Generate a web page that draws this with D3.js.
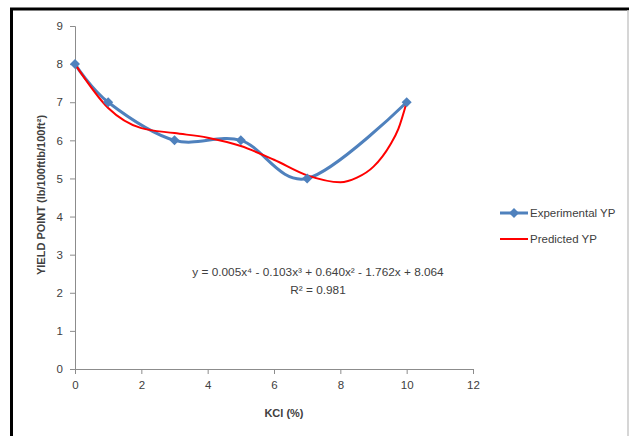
<!DOCTYPE html>
<html>
<head>
<meta charset="utf-8">
<script src="https://cdn.jsdelivr.net/npm/d3@7"></script>
<style>
  body { margin: 0; background: #fff; }
  svg text { font-family: "Liberation Sans", Arial, sans-serif; fill: #404040; }
</style>
</head>
<body>
<div class="canvas"></div>
<script>
// data
const kcl = [0, 1, 3, 5, 7, 10];
const experimentalYP = [8, 7, 6, 6, 5, 7];
const predictedX = [0, 1, 2, 3, 4, 5, 6, 7, 8, 8.5, 9, 9.5, 9.75, 10];
const predictedYP = [8.0, 6.85, 6.32, 6.19, 6.07, 5.85, 5.49, 5.08, 4.9, 5.02, 5.31, 5.88, 6.3, 7.0];
const xTicks = [0, 2, 4, 6, 8, 10, 12];
const yTicks = [0, 1, 2, 3, 4, 5, 6, 7, 8, 9];
const seriesNames = ['Experimental YP', 'Predicted YP'];

const dims = { width: 629, height: 436 };
const plot = { left: 75, right: 473, top: 26, bottom: 369 };

const svg = d3.select('.canvas')
  .append('svg')
  .attr('width', dims.width)
  .attr('height', dims.height);

// frame
svg.append('line').attr('x1', 10).attr('x2', 629).attr('y1', 9).attr('y2', 9)
  .attr('stroke', '#000').attr('stroke-width', 3);
svg.append('line').attr('x1', 11.5).attr('x2', 11.5).attr('y1', 8).attr('y2', 436)
  .attr('stroke', '#000').attr('stroke-width', 3);
svg.append('line').attr('x1', 628).attr('x2', 628).attr('y1', 10).attr('y2', 436)
  .attr('stroke', '#c8c8c8').attr('stroke-width', 1.5);

const x = d3.scaleLinear().domain([0, 12]).range([plot.left, plot.right]);
const y = d3.scaleLinear().domain([0, 9]).range([plot.bottom, plot.top]);

const xAxis = svg.append('g')
  .attr('transform', `translate(0, ${plot.bottom})`)
  .call(d3.axisBottom(x).tickValues(xTicks).tickSize(5).tickPadding(7));

const yAxis = svg.append('g')
  .attr('transform', `translate(${plot.left}, 0)`)
  .call(d3.axisLeft(y).tickValues(yTicks).tickSize(5).tickPadding(7));

[xAxis, yAxis].forEach(g => {
  g.select('.domain').attr('stroke', '#8c8c8c');
  g.selectAll('.tick line').attr('stroke', '#8c8c8c');
  g.selectAll('.tick text').attr('fill', '#404040').style('font-size', '11.5px');
});

// axis titles
svg.append('text')
  .attr('x', x(6.3)).attr('y', 417)
  .attr('text-anchor', 'middle')
  .style('font-size', '11px').style('font-weight', 'bold').attr('fill', '#222')
  .text('KCl (%)');

svg.append('text')
  .attr('transform', `translate(45, 195) rotate(-90)`)
  .attr('text-anchor', 'middle')
  .style('font-size', '11px').style('font-weight', 'bold').attr('fill', '#222')
  .text('YIELD POINT (lb/100ftlb/100ft²)');

// experimental: excel-like smoothing
const smooth = d3.line()
  .x(d => x(d[0]))
  .y(d => y(d[1]))
  .curve(d3.curveCardinal.tension(0));

// predicted: smooth in x
const smoothPred = d3.line()
  .x(d => x(d[0]))
  .y(d => y(d[1]))
  .curve(d3.curveMonotoneX);

const expData = kcl.map((k, i) => [k, experimentalYP[i]]);
const predData = predictedX.map((k, i) => [k, predictedYP[i]]);

svg.append('path')
  .datum(expData)
  .attr('d', smooth)
  .attr('fill', 'none')
  .attr('stroke', '#4f81bd')
  .attr('stroke-width', 3);

svg.append('path')
  .datum(predData)
  .attr('d', smoothPred)
  .attr('fill', 'none')
  .attr('stroke', '#ff0000')
  .attr('stroke-width', 2);

const diamond = d3.symbol().type(d3.symbolDiamond2).size(64);

svg.selectAll('.marker')
  .data(expData)
  .enter()
  .append('path')
  .attr('class', 'marker')
  .attr('transform', d => `translate(${x(d[0])}, ${y(d[1])})`)
  .attr('d', diamond)
  .attr('fill', '#4f81bd');

// equation
svg.append('text')
  .attr('x', 318).attr('y', 276)
  .attr('text-anchor', 'middle')
  .style('font-size', '11.8px').attr('fill', '#222')
  .text('y = 0.005x⁴ - 0.103x³ + 0.640x² - 1.762x + 8.064');
svg.append('text')
  .attr('x', 318).attr('y', 294)
  .attr('text-anchor', 'middle')
  .style('font-size', '11.8px').attr('fill', '#222')
  .text('R² = 0.981');

// legend
const legend = svg.append('g').attr('transform', 'translate(500, 213)');
const legendItems = legend.selectAll('g')
  .data(seriesNames)
  .enter()
  .append('g')
  .attr('transform', (d, i) => `translate(0, ${i * 26})`);

legendItems.append('line')
  .attr('x1', 0).attr('x2', 28)
  .attr('stroke', (d, i) => i === 0 ? '#4f81bd' : '#ff0000')
  .attr('stroke-width', (d, i) => i === 0 ? 3 : 2);

legendItems.filter((d, i) => i === 0)
  .append('path')
  .attr('transform', 'translate(14, 0)')
  .attr('d', diamond)
  .attr('fill', '#4f81bd');

legendItems.append('text')
  .attr('x', 30).attr('dy', '0.35em')
  .style('font-size', '11.5px').attr('fill', '#222')
  .text(d => d);
</script>
</body>
</html>
